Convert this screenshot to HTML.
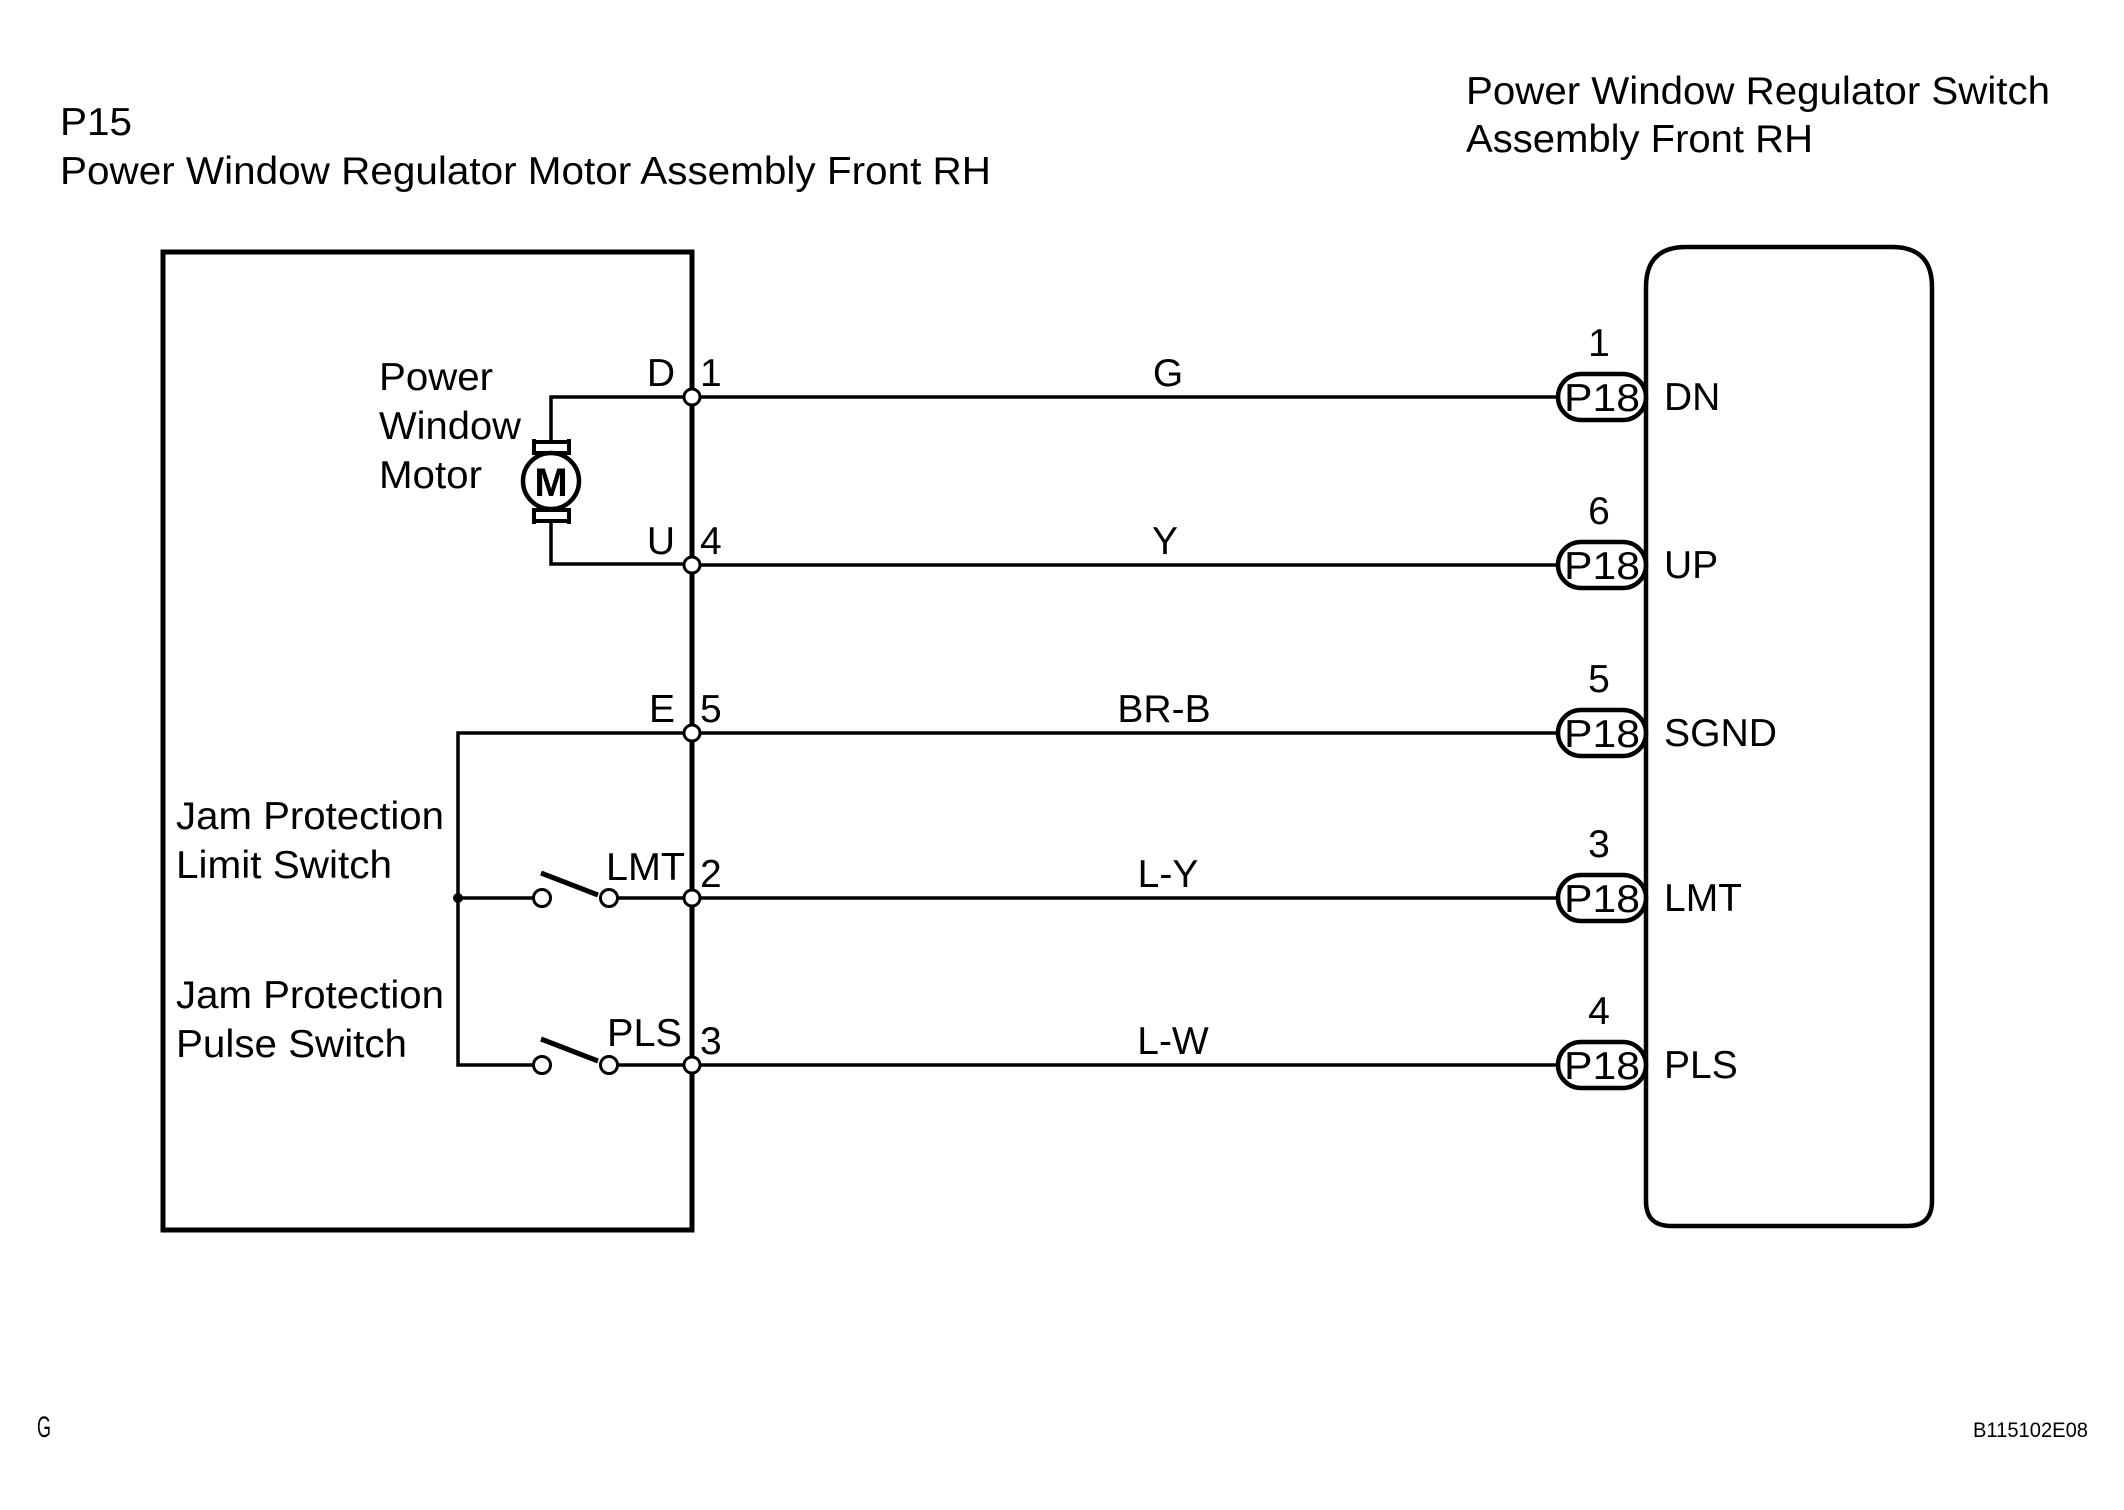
<!DOCTYPE html>
<html><head><meta charset="utf-8"><style>html,body{margin:0;padding:0;background:#fff}svg{display:block}</style></head>
<body>
<svg width="2124" height="1510" viewBox="0 0 2124 1510" xmlns="http://www.w3.org/2000/svg" font-family="Liberation Sans, Arial, sans-serif" font-size="39" fill="#000">
<rect width="2124" height="1510" fill="#fff"/>
<!-- titles -->
<text x="60" y="135" textLength="72" lengthAdjust="spacingAndGlyphs">P15</text>
<text x="60" y="184" textLength="931" lengthAdjust="spacingAndGlyphs">Power Window Regulator Motor Assembly Front RH</text>
<text x="1466" y="104" textLength="584" lengthAdjust="spacingAndGlyphs">Power Window Regulator Switch</text>
<text x="1466" y="152" textLength="347" lengthAdjust="spacingAndGlyphs">Assembly Front RH</text>

<!-- left box -->
<rect x="163" y="252" width="529" height="978" fill="none" stroke="#000" stroke-width="5"/>
<!-- right box -->
<path d="M1646 1201 L1646 287 Q1646 247 1686 247 L1892 247 Q1932 247 1932 287 L1932 1201 Q1932 1226 1907 1226 L1671 1226 Q1646 1226 1646 1201 Z" fill="none" stroke="#000" stroke-width="4.5"/>

<g stroke="#000" stroke-width="3.5" fill="none">
<line x1="692" y1="397" x2="1556" y2="397"/>
<line x1="692" y1="565" x2="1556" y2="565"/>
<line x1="692" y1="733" x2="1556" y2="733"/>
<line x1="692" y1="898" x2="1556" y2="898"/>
<line x1="692" y1="1065" x2="1556" y2="1065"/>
<polyline points="692,397 551,397 551,441"/>
<polyline points="692,564 551,564 551,522"/>
<polyline points="692,733 458,733 458,1065 533,1065"/>
<line x1="458" y1="898" x2="533" y2="898"/>
<line x1="618" y1="898" x2="692" y2="898"/>
<line x1="618" y1="1065" x2="692" y2="1065"/>
</g>
<!-- motor symbol -->
<path d="M534 439 L534 453 L569 453 L569 439 M534 442 L569 442" fill="none" stroke="#000" stroke-width="4"/>
<path d="M534 524 L534 510 L569 510 L569 524 M534 521 L569 521" fill="none" stroke="#000" stroke-width="4"/>
<circle cx="551" cy="481" r="28" fill="#fff" stroke="#000" stroke-width="4.5"/>
<text x="551" y="496" text-anchor="middle" font-weight="bold" font-size="40">M</text>
<!-- switches -->
<g stroke="#000" stroke-width="3" fill="#fff">
<circle cx="542" cy="898" r="8.5"/><circle cx="609" cy="898" r="8.5"/>
<circle cx="542" cy="1065" r="8.5"/><circle cx="609" cy="1065" r="8.5"/>
</g>
<g stroke="#000" stroke-width="5">
<line x1="541" y1="873" x2="598" y2="895"/>
<line x1="541" y1="1039" x2="598" y2="1061"/>
</g>
<circle cx="458" cy="898" r="5" fill="#000"/>
<!-- terminal circles -->
<g stroke="#000" stroke-width="3" fill="#fff">
<circle cx="692" cy="397" r="8"/><circle cx="692" cy="565" r="8"/><circle cx="692" cy="733" r="8"/><circle cx="692" cy="898" r="8"/><circle cx="692" cy="1065" r="8"/>
</g>
<!-- pills -->
<g stroke="#000" stroke-width="4.5" fill="#fff">
<rect x="1558" y="374" width="88" height="46" rx="23"/>
<rect x="1558" y="542" width="88" height="46" rx="23"/>
<rect x="1558" y="710" width="88" height="46" rx="23"/>
<rect x="1558" y="875" width="88" height="46" rx="23"/>
<rect x="1558" y="1042" width="88" height="46" rx="23"/>
</g>
<g text-anchor="middle">
<text x="1602" y="411" textLength="76" lengthAdjust="spacingAndGlyphs">P18</text>
<text x="1602" y="579" textLength="76" lengthAdjust="spacingAndGlyphs">P18</text>
<text x="1602" y="747" textLength="76" lengthAdjust="spacingAndGlyphs">P18</text>
<text x="1602" y="912" textLength="76" lengthAdjust="spacingAndGlyphs">P18</text>
<text x="1602" y="1079" textLength="76" lengthAdjust="spacingAndGlyphs">P18</text>
<text x="1599" y="356">1</text>
<text x="1599" y="524">6</text>
<text x="1599" y="692">5</text>
<text x="1599" y="857">3</text>
<text x="1599" y="1024">4</text>
<text x="1168" y="386">G</text>
<text x="1165" y="554">Y</text>
<text x="1164" y="722">BR-B</text>
<text x="1168" y="887">L-Y</text>
<text x="1173" y="1054">L-W</text>
</g>
<!-- pin names -->
<text x="1664" y="410">DN</text>
<text x="1664" y="578">UP</text>
<text x="1664" y="746" textLength="113" lengthAdjust="spacingAndGlyphs">SGND</text>
<text x="1664" y="911">LMT</text>
<text x="1664" y="1078">PLS</text>
<!-- terminal labels -->
<g text-anchor="end">
<text x="675" y="386">D</text>
<text x="675" y="554">U</text>
<text x="675" y="722">E</text>
<text x="685" y="880" textLength="79" lengthAdjust="spacingAndGlyphs">LMT</text>
<text x="682" y="1046" textLength="75" lengthAdjust="spacingAndGlyphs">PLS</text>
</g>
<text x="700" y="386">1</text>
<text x="700" y="554">4</text>
<text x="700" y="722">5</text>
<text x="700" y="887">2</text>
<text x="700" y="1054">3</text>
<!-- component labels -->
<text x="379" y="390" textLength="114" lengthAdjust="spacingAndGlyphs">Power</text>
<text x="379" y="439" textLength="142" lengthAdjust="spacingAndGlyphs">Window</text>
<text x="379" y="488" textLength="103" lengthAdjust="spacingAndGlyphs">Motor</text>
<text x="176" y="829" textLength="268" lengthAdjust="spacingAndGlyphs">Jam Protection</text>
<text x="176" y="878" textLength="216" lengthAdjust="spacingAndGlyphs">Limit Switch</text>
<text x="176" y="1008" textLength="268" lengthAdjust="spacingAndGlyphs">Jam Protection</text>
<text x="176" y="1057" textLength="231" lengthAdjust="spacingAndGlyphs">Pulse Switch</text>
<!-- footer -->
<text x="37" y="1437" font-size="30" textLength="14" lengthAdjust="spacingAndGlyphs">G</text>
<text x="2088" y="1437" font-size="21" text-anchor="end" textLength="115" lengthAdjust="spacingAndGlyphs">B115102E08</text>
</svg>
</body></html>
